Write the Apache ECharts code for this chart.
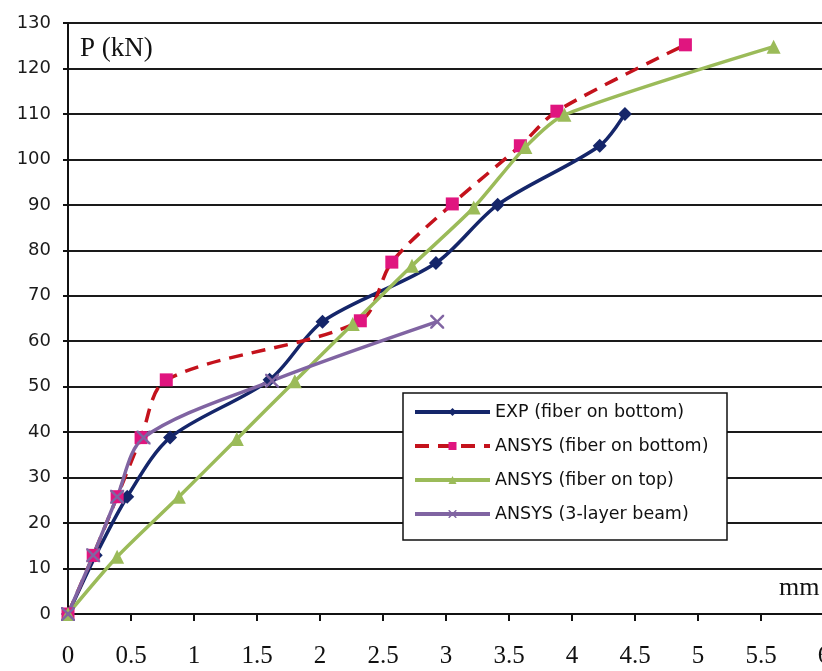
<!DOCTYPE html>
<html>
<head>
<meta charset="utf-8">
<script src="https://cdn.jsdelivr.net/npm/echarts@6/dist/echarts.min.js"></script>
<style>
html,body{margin:0;padding:0;background:#fff;}
#c{width:822px;height:671px;}
</style>
</head>
<body>
<div id="c"></div>
<script>
// ---- data ----
const seriesNames = ['EXP (fiber on bottom)', 'ANSYS (fiber on bottom)', 'ANSYS (fiber on top)', 'ANSYS (3-layer beam)'];

const expX = [0, 0.22, 0.47, 0.81, 1.6, 2.02, 2.92, 3.41, 4.22, 4.42];
const expY = [0, 12.9, 25.8, 38.8, 51.5, 64.3, 77.2, 90.0, 103.0, 110.0];

const botX = [0, 0.2, 0.39, 0.58, 0.78, 2.32, 2.57, 3.05, 3.59, 3.88, 4.9];
const botY = [0, 12.9, 25.8, 38.8, 51.5, 64.5, 77.4, 90.2, 103.0, 110.6, 125.2];

const topX = [0, 0.39, 0.88, 1.34, 1.8, 2.26, 2.73, 3.22, 3.63, 3.94, 5.6];
const topY = [0, 12.6, 25.8, 38.5, 51.2, 63.8, 76.6, 89.4, 102.7, 109.8, 124.8];

const layX = [0, 0.2, 0.39, 0.6, 1.62, 2.93];
const layY = [0, 12.9, 25.8, 38.8, 51.3, 64.3];

const xTicks = {min: 0, max: 6, step: 0.5};
const yTicks = {min: 0, max: 130, step: 10};
const yAxisTitle = 'P (kN)';
const xAxisTitle = 'mm';

// ---- build ----
const pairs = (xs, ys) => xs.map((x, i) => [x, ys[i]]);
const xPath = 'path://M0,0 L2.5,0 L10,7.5 L17.5,0 L20,0 L20,2.5 L12.5,10 L20,17.5 L20,20 L17.5,20 L10,12.5 L2.5,20 L0,20 L0,17.5 L7.5,10 L0,2.5 Z';

const chart = echarts.init(document.getElementById('c'), null, {renderer: 'canvas'});
chart.setOption({
  backgroundColor: '#ffffff',
  animation: false,
  grid: {left: 68, right: -2, top: 23, bottom: 57, containLabel: false, outerBoundsMode: 'none'},
  xAxis: {
    type: 'value', min: xTicks.min, max: xTicks.max, interval: xTicks.step,
    axisLine: {show: true, onZero: false, lineStyle: {color: '#111', width: 2}},
    axisTick: {show: true, length: 7, lineStyle: {color: '#111', width: 2}},
    splitLine: {show: false},
    axisLabel: {
      show: true, margin: 30, color: '#111', fontSize: 25,
      fontFamily: '"Liberation Serif", "Times New Roman", serif',
      showMinLabel: true, showMaxLabel: true, hideOverlap: false
    }
  },
  yAxis: {
    type: 'value', min: yTicks.min, max: yTicks.max, interval: yTicks.step,
    axisLine: {show: true, lineStyle: {color: '#111', width: 2}},
    axisTick: {show: true, length: 5, lineStyle: {color: '#111', width: 2}},
    splitLine: {show: true, lineStyle: {color: '#1a1a1a', width: 2}},
    axisLabel: {
      show: true, margin: 17, color: '#1a1a1a', fontSize: 18,
      fontFamily: '"DejaVu Sans", sans-serif'
    }
  },
  legend: {
    show: true, orient: 'vertical', left: 413, top: 402, padding: 0,
    itemWidth: 75, itemHeight: 10, itemGap: 14, itemTextGap: 7, z: 10,
    lineStyle: {width: 4},
    textStyle: {fontSize: 17.5, lineHeight: 20, color: '#111', fontFamily: '"DejaVu Sans", sans-serif'},
    data: seriesNames
  },
  graphic: [
    {type: 'rect', z: 5, shape: {x: 403, y: 393, width: 324, height: 147},
     style: {fill: '#ffffff', stroke: '#111', lineWidth: 1.5}},
    {type: 'text', left: 80, top: 35, z: 6,
     style: {text: yAxisTitle, fontSize: 27, fill: '#111', fontFamily: '"Liberation Serif", "Times New Roman", serif'}},
    {type: 'text', left: 779, top: 575, z: 6,
     style: {text: xAxisTitle, fontSize: 26, fill: '#111', fontFamily: '"Liberation Serif", "Times New Roman", serif'}}
  ],
  series: [
    {
      name: seriesNames[0], type: 'line', smooth: 0.3, data: pairs(expX, expY),
      symbol: 'diamond', symbolSize: 14,
      lineStyle: {color: '#15266A', width: 3.5},
      itemStyle: {color: '#15266A'}
    },
    {
      name: seriesNames[1], type: 'line', smooth: 0.3, data: pairs(botX, botY),
      symbol: 'rect', symbolSize: 13,
      lineStyle: {color: '#C4121C', width: 3.5, type: [14, 9]},
      itemStyle: {color: '#E0157F'}
    },
    {
      name: seriesNames[2], type: 'line', smooth: 0.25, data: pairs(topX, topY),
      symbol: 'triangle', symbolSize: 14,
      lineStyle: {color: '#9BBB59', width: 3.5},
      itemStyle: {color: '#9BBB59'}
    },
    {
      name: seriesNames[3], type: 'line', smooth: 0.3, data: pairs(layX, layY),
      symbol: xPath, symbolSize: 14,
      lineStyle: {color: '#8064A2', width: 3.5},
      itemStyle: {color: '#8064A2'}
    }
  ]
});
</script>
</body>
</html>
